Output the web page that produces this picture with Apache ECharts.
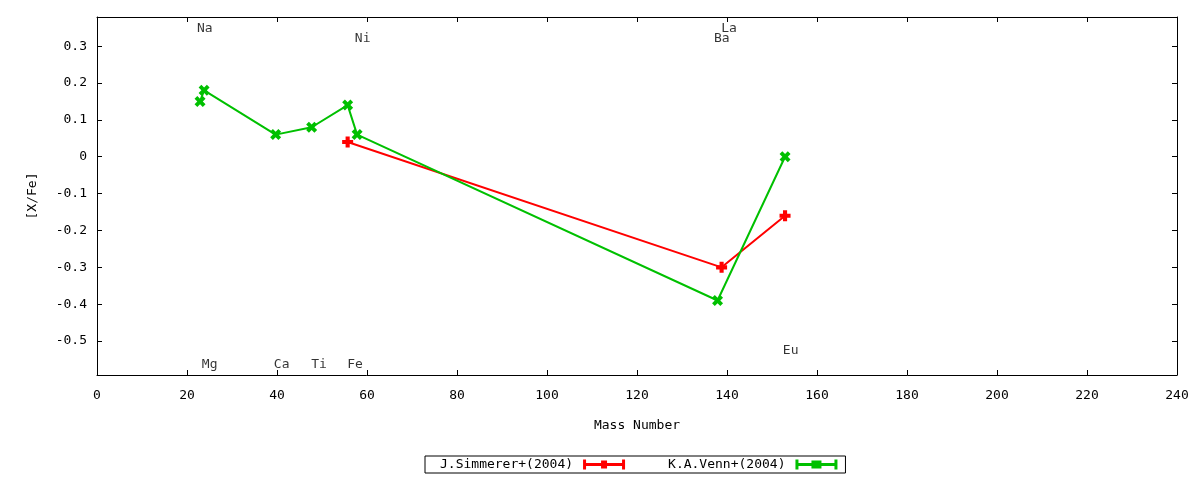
<!DOCTYPE html>
<html>
<head>
<meta charset="utf-8">
<script src="https://cdn.jsdelivr.net/npm/echarts@6/dist/echarts.min.js"></script>
<style>
html,body{margin:0;padding:0;background:#fff;}
#chart{width:1200px;height:480px;}
</style>
</head>
<body>
<div id="chart"></div>
<script>
// Data
const simmererMass = [55.7, 138.8, 152.9];
const simmererXFe = [0.04, -0.30, -0.16];
const vennMass = [22.9, 23.8, 39.7, 47.7, 55.7, 57.8, 137.9, 152.9];
const vennXFe = [0.15, 0.18, 0.06, 0.08, 0.14, 0.06, -0.39, 0.0];
const elementNames = ['Na', 'Ni', 'Ba', 'La', 'Mg', 'Ca', 'Ti', 'Fe', 'Eu'];
const elementLabelX = [22.2, 57.3, 137.1, 138.7, 23.3, 39.3, 47.6, 55.6, 152.4];
const elementLabelY = [0.347, 0.32, 0.32, 0.347, -0.564, -0.564, -0.564, -0.564, -0.526];
const xTicks = [0, 20, 40, 60, 80, 100, 120, 140, 160, 180, 200, 220, 240];
const yTicks = [-0.5, -0.4, -0.3, -0.2, -0.1, 0, 0.1, 0.2, 0.3];
const seriesNames = ['J.Simmerer+(2004)', 'K.A.Venn+(2004)'];

const FONT = 'DejaVu Sans Mono';
const plusPath = 'path://M-1.5,-4H1.5V-1.5H4V1.5H1.5V4H-1.5V1.5H-4V-1.5H-1.5Z';
const crossPath = 'path://M-4,-2L-2,-4L0,-2L2,-4L4,-2L2,0L4,2L2,4L0,2L-2,4L-4,2L-2,0Z';
const legendRed = 'path://M0,0H3V3.5H18V1H24V3.5H39V0H42V10H39V6.5H24V9H18V6.5H3V10H0Z';
const legendGreen = 'path://M0,0H3V3.5H16V1H26V3.5H39V0H42V10H39V6.5H26V9H16V6.5H3V10H0Z';

const chart = echarts.init(document.getElementById('chart'), null, {renderer: 'canvas'});

const axisLine = {show: true, onZero: false, lineStyle: {color: '#000', width: 1}};
const fmtY = v => {
  const r = Math.round(v * 10) / 10;
  return r === 0 ? '0' : r.toString();
};

const xBase = {
  type: 'value', min: 0, max: 240,
  axisLine: axisLine,
  splitLine: {show: false},
  axisTick: {show: true, inside: true, length: 5, customValues: xTicks, lineStyle: {color: '#000'}},
};
const yBase = {
  type: 'value', min: -0.592, max: 0.379,
  axisLine: axisLine,
  splitLine: {show: false},
  axisTick: {show: true, inside: true, length: 5, customValues: yTicks, lineStyle: {color: '#000'}},
};

chart.setOption({
  animation: false,
  backgroundColor: '#fff',
  textStyle: {fontFamily: FONT},
  grid: {left: 97, right: 23, top: 17, bottom: 105, containLabel: false},
  legend: {
    left: 425, top: 456,
    padding: [2, 8, 2, 15],
    borderColor: '#000', borderWidth: 1,
    align: 'right',
    itemGap: 43,
    itemWidth: 42, itemHeight: 10,
    textStyle: {fontFamily: FONT, fontSize: 13, color: '#000', padding: [0, 5, 0, 0]},
    data: [
      {name: seriesNames[0], icon: legendRed},
      {name: seriesNames[1], icon: legendGreen}
    ]
  },
  xAxis: [
    Object.assign({}, xBase, {
      position: 'bottom',
      name: 'Mass Number', nameLocation: 'middle', nameGap: 44,
      nameTextStyle: {fontFamily: FONT, fontSize: 13, color: '#000'},
      axisLabel: {show: true, customValues: xTicks, margin: 14, fontFamily: FONT, fontSize: 13, color: '#000'}
    }),
    Object.assign({}, xBase, {position: 'top', axisLabel: {show: false}})
  ],
  yAxis: [
    Object.assign({}, yBase, {
      position: 'left',
      name: '[X/Fe]', nameLocation: 'middle', nameGap: 58, nameRotate: 90,
      nameTextStyle: {fontFamily: FONT, fontSize: 13, color: '#000'},
      axisLabel: {show: true, customValues: yTicks, margin: 10, fontFamily: FONT, fontSize: 13, color: '#000', formatter: fmtY}
    }),
    Object.assign({}, yBase, {position: 'right', axisLabel: {show: false}})
  ],
  series: [
    {
      name: seriesNames[0], type: 'line', xAxisIndex: 0, yAxisIndex: 0,
      data: simmererMass.map((m, i) => [m, simmererXFe[i]]),
      color: '#ff0000',
      lineStyle: {color: '#ff0000', width: 2},
      itemStyle: {color: '#ff0000'},
      symbol: plusPath, symbolSize: 11, showAllSymbol: true
    },
    {
      name: seriesNames[1], type: 'line', xAxisIndex: 0, yAxisIndex: 0,
      data: vennMass.map((m, i) => [m, vennXFe[i]]),
      color: '#00c000',
      lineStyle: {color: '#00c000', width: 2},
      itemStyle: {color: '#00c000'},
      symbol: crossPath, symbolSize: 11, showAllSymbol: true
    },
    {
      name: 'elements', type: 'scatter', xAxisIndex: 0, yAxisIndex: 0,
      symbolSize: 0, silent: true,
      data: elementNames.map((n, i) => ({name: n, value: [elementLabelX[i], elementLabelY[i]]})),
      label: {
        show: true, position: 'inside', align: 'left', verticalAlign: 'middle',
        formatter: p => p.name, fontFamily: FONT, fontSize: 13, color: '#000'
      }
    }
  ]
});
</script>
</body>
</html>
